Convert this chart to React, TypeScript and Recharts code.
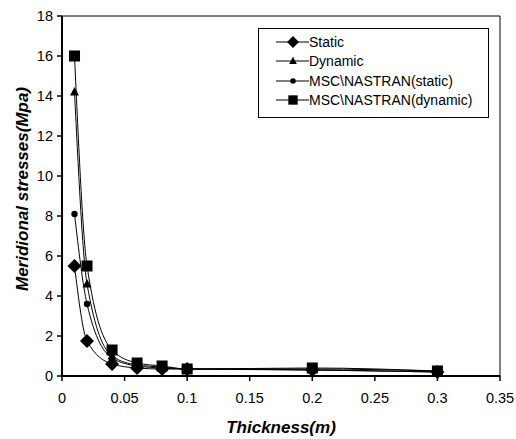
import React from "react";
import {
  LineChart,
  Line,
  XAxis,
  YAxis,
  ReferenceLine,
  Legend,
} from "recharts";

const thickness = [0.01, 0.02, 0.04, 0.06, 0.08, 0.1, 0.2, 0.3];
const staticVals = [5.5, 1.75, 0.6, 0.4, 0.35, 0.35, 0.3, 0.2];
const dynamicVals = [14.2, 4.6, 1.0, 0.55, 0.45, 0.35, 0.35, 0.25];
const nastranStatic = [8.1, 3.6, 0.9, 0.5, 0.4, 0.35, 0.3, 0.2];
const nastranDynamic = [16, 5.5, 1.3, 0.65, 0.5, 0.35, 0.4, 0.25];

const xTicks = [0, 0.05, 0.1, 0.15, 0.2, 0.25, 0.3, 0.35];
const yTicks = [0, 2, 4, 6, 8, 10, 12, 14, 16, 18];

const SERIES = [
  { key: "static", name: "Static", shape: "diamond" },
  { key: "dynamic", name: "Dynamic", shape: "triangle" },
  { key: "nStatic", name: "MSC\\NASTRAN(static)", shape: "circle" },
  { key: "nDynamic", name: "MSC\\NASTRAN(dynamic)", shape: "square" },
];

const data = thickness.map((t, i) => ({
  t,
  static: staticVals[i],
  dynamic: dynamicVals[i],
  nStatic: nastranStatic[i],
  nDynamic: nastranDynamic[i],
}));

const FONT = "'Liberation Sans', Arial, sans-serif";
const titleStyle = {
  fontFamily: FONT,
  fontSize: 17,
  fontWeight: "bold" as const,
  fontStyle: "italic" as const,
  fill: "#000",
};

function Marker({ shape, cx, cy, s = 1 }: { shape: string; cx: number; cy: number; s?: number }) {
  if (shape === "diamond")
    return (
      <polygon
        points={`${cx},${cy - 7 * s} ${cx + 7 * s},${cy} ${cx},${cy + 7 * s} ${cx - 7 * s},${cy}`}
        fill="#000"
      />
    );
  if (shape === "triangle")
    return (
      <polygon
        points={`${cx},${cy - 5 * s} ${cx + 4.5 * s},${cy + 3.5 * s} ${cx - 4.5 * s},${cy + 3.5 * s}`}
        fill="#000"
      />
    );
  if (shape === "circle") return <circle cx={cx} cy={cy} r={3.2 * s} fill="#000" />;
  return <rect x={cx - 5.5 * s} y={cy - 5.5 * s} width={11 * s} height={11 * s} fill="#000" />;
}

function makeDot(shape: string) {
  return (p: any) => {
    if (p.cx == null || p.cy == null) return <g key={p.index} />;
    return <Marker key={p.index} shape={shape} cx={p.cx} cy={p.cy} />;
  };
}

function LegendBox() {
  return (
    <div
      style={{
        border: "1px solid #000",
        width: 231,
        height: 90,
        boxSizing: "border-box",
        background: "#fff",
        paddingTop: 3,
        fontFamily: FONT,
        fontSize: 14,
      }}
    >
      {SERIES.map((s) => (
        <div key={s.key} style={{ display: "flex", alignItems: "center", height: 19.5 }}>
          <svg width={50} height={16} style={{ flex: "none" }}>
            <line x1={17} x2={50} y1={8} y2={8} stroke="#000" strokeWidth={1} />
            <Marker shape={s.shape} cx={34} cy={8} s={0.85} />
          </svg>
          <span style={{ whiteSpace: "nowrap" }}>{s.name}</span>
        </div>
      ))}
    </div>
  );
}

function YLabel(props: any) {
  const vb = props.viewBox || {};
  const cx = 22;
  const cy = vb.y + vb.height / 2 - 7;
  return (
    <text
      x={cx}
      y={cy}
      transform={`rotate(-90, ${cx}, ${cy})`}
      textAnchor="middle"
      dominantBaseline="central"
      style={titleStyle}
    >
      Meridional stresses(Mpa)
    </text>
  );
}

export default function App() {
  return (
    <div style={{ position: "absolute", left: 0, top: 0, background: "#fff" }}>
      <LineChart
        width={516}
        height={439}
        data={data}
        margin={{ top: 16, right: 16, bottom: 33, left: 22 }}
      >
        <XAxis
          dataKey="t"
          type="number"
          domain={[0, 0.35]}
          ticks={xTicks}
          height={30}
          axisLine={{ stroke: "#000", strokeWidth: 2 }}
          tickLine={{ stroke: "#000", strokeWidth: 1.5 }}
          tickSize={5}
          tick={{ fill: "#000", fontSize: 14.5, fontFamily: FONT, dy: 10 }}
          label={{
            value: "Thickness(m)",
            position: "insideBottom",
            offset: -27,
            style: titleStyle,
          }}
        />
        <YAxis
          type="number"
          domain={[0, 18]}
          ticks={yTicks}
          width={40}
          axisLine={{ stroke: "#000", strokeWidth: 2 }}
          tickLine={{ stroke: "#000", strokeWidth: 1.5 }}
          tickSize={5}
          tick={{ fill: "#000", fontSize: 14.5, fontFamily: FONT, dx: -2 }}
          label={<YLabel />}
        />
        <ReferenceLine y={18} stroke="#000" strokeWidth={1} />
        <ReferenceLine x={0.35} stroke="#000" strokeWidth={1} />
        {SERIES.map((s) => (
          <Line
            key={s.key}
            dataKey={s.key}
            name={s.name}
            type="monotone"
            stroke="#000"
            strokeWidth={1}
            dot={makeDot(s.shape)}
            activeDot={false}
            isAnimationActive={false}
          />
        ))}
        <Legend
          layout="vertical"
          verticalAlign="middle"
          align="center"
          wrapperStyle={{ top: 28, left: 258, width: 231 }}
          content={() => <LegendBox />}
        />
      </LineChart>
    </div>
  );
}
